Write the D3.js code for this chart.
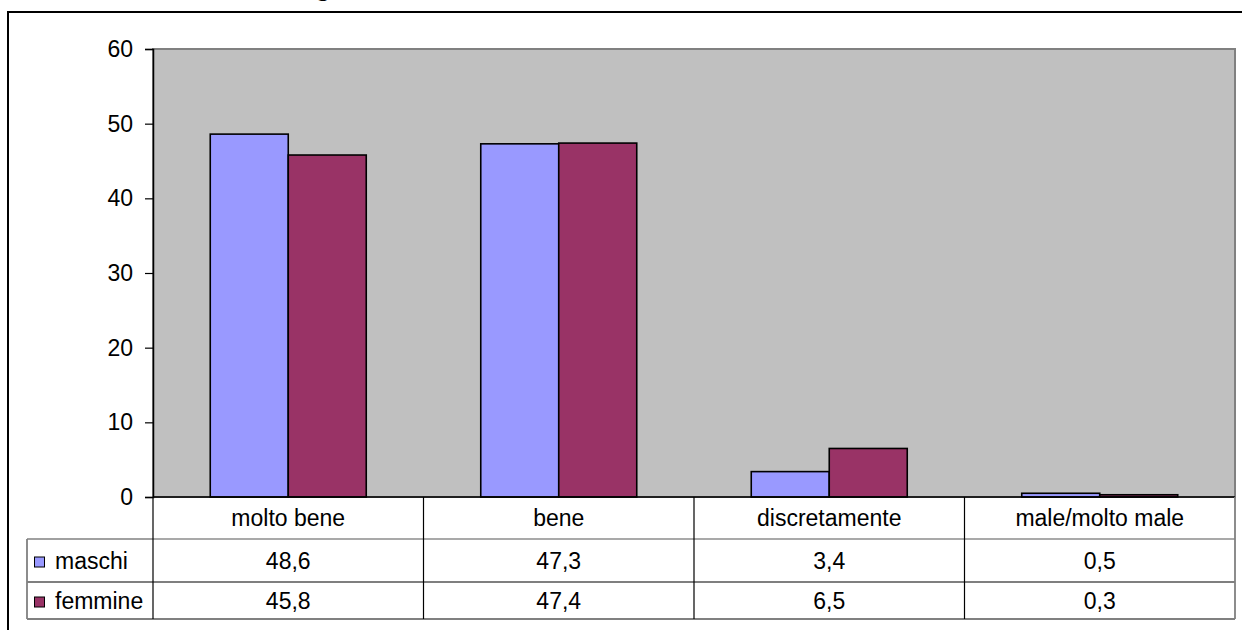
<!DOCTYPE html>
<html>
<head>
<meta charset="utf-8">
<script src="https://cdn.jsdelivr.net/npm/d3@7"></script>
<style>
  html, body { margin: 0; padding: 0; background: #fff; }
  svg { display: block; }
  text { font-family: "Liberation Sans", Arial, sans-serif; fill: #000; }
</style>
</head>
<body>
<svg id="chart" width="1242" height="630"></svg>
<script>
// Categories and series values
const categories = ["molto bene", "bene", "discretamente", "male/molto male"];
const seriesNames = ["maschi", "femmine"];
const maschi = [48.6, 47.3, 3.4, 0.5];
const femmine = [45.8, 47.4, 6.5, 0.3];
const yTicks = [0, 10, 20, 30, 40, 50, 60];
const seriesColors = ["#9999FF", "#993366"];

const seriesValues = [maschi, femmine];
const rows = categories.map((c, i) => ({
  category: c,
  values: seriesNames.map((s, j) => ({ series: s, index: j, value: seriesValues[j][i] }))
}));

const W = 1242, H = 630;
const plot = { left: 153, right: 1235, top: 49, bottom: 497 };
const tableRows = [497, 539, 582, 619];
const legendLeft = 27;
const fontSize = 23;

const itLocale = d3.formatLocale({ decimal: ",", thousands: ".", grouping: [3], currency: ["", " €"] });
const fmt = itLocale.format(".1f");

const svg = d3.select("#chart");
svg.append("rect").attr("width", W).attr("height", H).attr("fill", "#fff");

// Fragment of the title above the frame
svg.append("text")
  .attr("x", 317).attr("y", -4.5)
  .style("font-family", "'Liberation Serif', 'Times New Roman', serif")
  .style("font-weight", "bold")
  .style("font-size", "24px")
  .text("g");

// Outer chart frame (continues past the right and bottom edges)
svg.append("rect")
  .attr("x", 8).attr("y", 12)
  .attr("width", 1400).attr("height", 800)
  .attr("fill", "none").attr("stroke", "#000").attr("stroke-width", 2);

const x0 = d3.scaleBand().domain(categories).range([plot.left, plot.right]).padding(0);
const x1 = d3.scaleBand().domain(seriesNames).range([0, x0.bandwidth()])
  .paddingInner(0).paddingOuter(0.734);
const y = d3.scaleLinear().domain([0, 60]).range([plot.bottom, plot.top]);

// Plot area background
svg.append("rect")
  .attr("x", plot.left).attr("y", plot.top)
  .attr("width", plot.right - plot.left).attr("height", plot.bottom - plot.top)
  .attr("fill", "#C0C0C0").attr("stroke", "#808080").attr("stroke-width", 2);

// Bars
const groups = svg.append("g").selectAll("g").data(rows).join("g")
  .attr("transform", d => `translate(${x0(d.category)},0)`);
groups.selectAll("rect").data(d => d.values).join("rect")
  .attr("x", d => x1(d.series))
  .attr("y", d => y(d.value))
  .attr("width", x1.bandwidth())
  .attr("height", d => y(0) - y(d.value))
  .attr("fill", d => seriesColors[d.index])
  .attr("stroke", "#000").attr("stroke-width", 1.6);

// Y axis
const yAxis = svg.append("g")
  .attr("transform", `translate(${plot.left},0)`)
  .call(d3.axisLeft(y).tickValues(yTicks).tickSize(8).tickPadding(12));
yAxis.select(".domain").attr("stroke", "#000").attr("stroke-width", 1.5);
yAxis.selectAll(".tick line").attr("stroke", "#000").attr("stroke-width", 1.2);
yAxis.selectAll(".tick text")
  .style("font-size", fontSize + "px")
  .style("font-family", "'Liberation Sans', Arial, sans-serif")
  .attr("fill", "#000");

// Baseline
svg.append("line")
  .attr("x1", plot.left).attr("x2", plot.right)
  .attr("y1", y(0)).attr("y2", y(0))
  .attr("stroke", "#000").attr("stroke-width", 1.5);

// Data table
const table = svg.append("g");
const inner = "#000", outer = "#808080";

// horizontal lines
table.append("line")
  .attr("x1", legendLeft).attr("x2", plot.left)
  .attr("y1", tableRows[1]).attr("y2", tableRows[1])
  .attr("stroke", outer).attr("stroke-width", 1.5);
table.append("line")
  .attr("x1", plot.left).attr("x2", plot.right)
  .attr("y1", tableRows[1]).attr("y2", tableRows[1])
  .attr("stroke", "#555").attr("stroke-width", 1.2);
table.append("line")
  .attr("x1", legendLeft).attr("x2", plot.right)
  .attr("y1", tableRows[2]).attr("y2", tableRows[2])
  .attr("stroke", inner).attr("stroke-width", 1.2);
table.append("line")
  .attr("x1", legendLeft).attr("x2", plot.right)
  .attr("y1", tableRows[3]).attr("y2", tableRows[3])
  .attr("stroke", outer).attr("stroke-width", 1.8);

// vertical lines
table.append("line")
  .attr("x1", legendLeft).attr("x2", legendLeft)
  .attr("y1", tableRows[1]).attr("y2", tableRows[3])
  .attr("stroke", outer).attr("stroke-width", 1.8);
table.selectAll("line.col").data(categories).join("line")
  .attr("class", "col")
  .attr("x1", d => x0(d)).attr("x2", d => x0(d))
  .attr("y1", tableRows[0]).attr("y2", tableRows[3])
  .attr("stroke", inner).attr("stroke-width", 1.2);
table.append("line")
  .attr("x1", plot.right).attr("x2", plot.right)
  .attr("y1", tableRows[0]).attr("y2", tableRows[3])
  .attr("stroke", outer).attr("stroke-width", 1.8);

const rowMid = i => (tableRows[i] + tableRows[i + 1]) / 2 + fontSize * 0.35;

// category labels
table.selectAll("text.cat").data(categories).join("text")
  .attr("class", "cat")
  .attr("x", d => x0(d) + x0.bandwidth() / 2)
  .attr("y", rowMid(0))
  .attr("text-anchor", "middle")
  .style("font-size", fontSize + "px")
  .text(d => d);

// series rows
seriesNames.forEach((s, j) => {
  const cy = (tableRows[j + 1] + tableRows[j + 2]) / 2;
  table.append("rect")
    .attr("x", 34.5).attr("y", cy - 3.5)
    .attr("width", 10).attr("height", 10)
    .attr("fill", seriesColors[j]).attr("stroke", "#000").attr("stroke-width", 1);
  table.append("text")
    .attr("x", 55).attr("y", rowMid(j + 1))
    .style("font-size", fontSize + "px")
    .text(s);
  table.selectAll(`text.v${j}`).data(rows).join("text")
    .attr("class", `v${j}`)
    .attr("x", d => x0(d.category) + x0.bandwidth() / 2)
    .attr("y", rowMid(j + 1))
    .attr("text-anchor", "middle")
    .style("font-size", fontSize + "px")
    .text(d => fmt(d.values[j].value));
});
</script>
</body>
</html>
